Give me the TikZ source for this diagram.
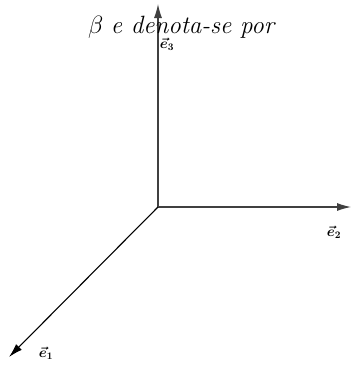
\documentclass[tikz,border=0pt]{standalone}
\usepackage{amsmath}
\usepackage{fix-cm}
\usetikzlibrary{arrows.meta}
\begin{document}
\begin{tikzpicture}[x=1pt,y=-1pt,
  axis/.style={draw=black!75,line width=1.1pt,-{Latex[length=14pt,width=8pt]}},
  lab/.style={font=\Large}]
\useasboundingbox (0,0) rectangle (351,365);
\coordinate (o) at (158,207);
\coordinate (t3) at (158,4);
\coordinate (t2) at (351,207);
\coordinate (t1) at (9,357);
\draw[axis] (o) -- (t3);
\draw[axis] (o) -- (t2);
\draw[axis,draw=black] (o) -- (t1);
\node[lab] (e3) at (167,44) {$\boldsymbol{\vec{e}_3}$};
\node[lab] (e2) at (334,232) {$\boldsymbol{\vec{e}_2}$};
\node[lab] (e1) at (46,353) {$\boldsymbol{\vec{e}_1}$};
\node (title) at (182,27) {\fontsize{25}{30}\selectfont $\beta$ \textit{e denota-se por}};
\end{tikzpicture}
\end{document}
